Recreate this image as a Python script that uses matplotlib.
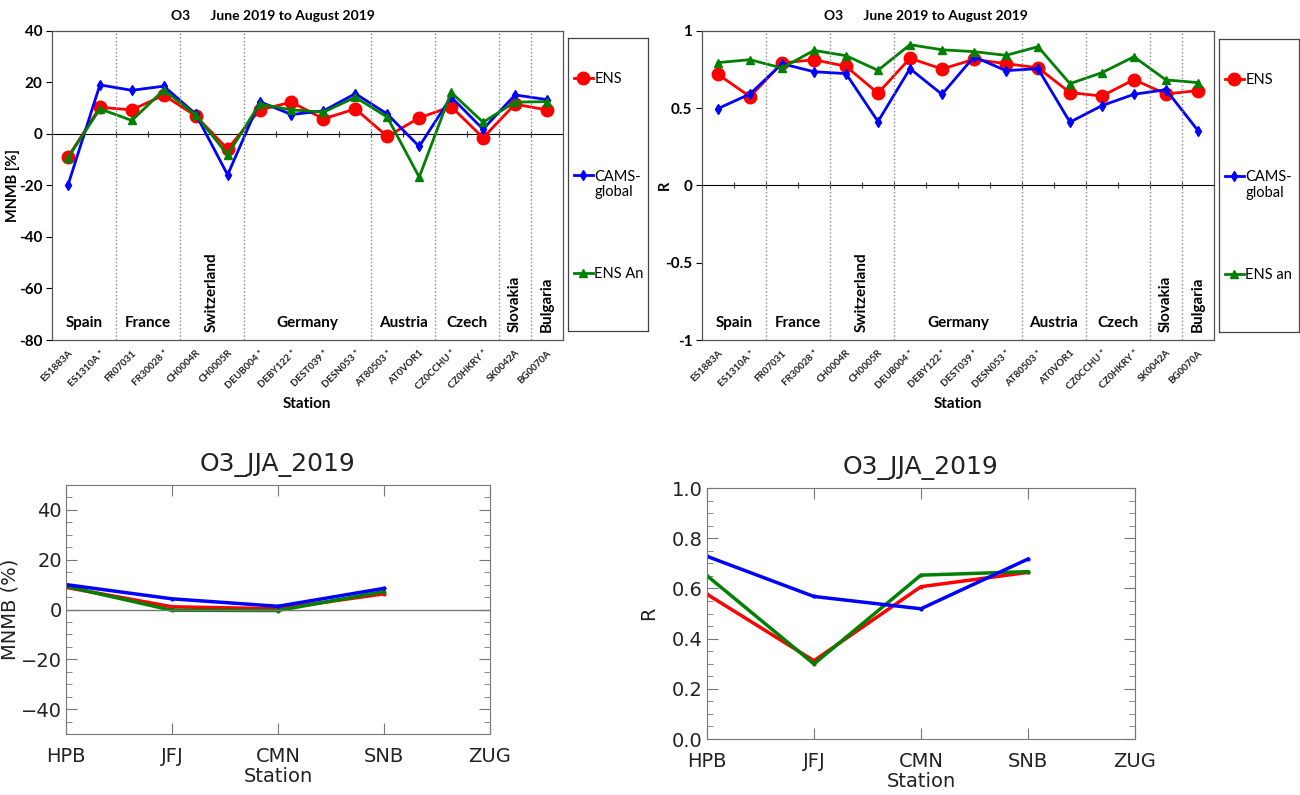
import numpy as np
import matplotlib.pyplot as plt
from matplotlib.ticker import MultipleLocator, FuncFormatter

# station / country layout of the top panels
stations = ["ES1883A", "ES1310A *", "FR07031", "FR30028 *", "CH0004R", "CH0005R",
            "DEUB004 *", "DEBY122 *", "DEST039 *", "DESN053 *", "AT80503 *", "AT0VOR1",
            "CZ0CCHU *", "CZ0HKRY *", "SK0042A", "BG0070A"]
countries = ["Spain", "France", "Switzerland", "Germany", "Austria", "Czech", "Slovakia", "Bulgaria"]
country_size = [2, 2, 2, 4, 2, 2, 1, 1]

# top left: MNMB [%]
mnmb_ens = [-9.0, 10.3, 9.3, 15.0, 7.0, -5.9, 9.3, 12.3, 5.8, 9.7, -1.0, 6.2, 10.6, -1.5, 11.5, 9.3]
mnmb_cams = [-19.9, 19.0, 16.9, 18.5, 7.7, -15.9, 12.5, 7.5, 8.9, 15.6, 7.7, -4.9, 14.3, 1.8, 15.1, 13.3]
mnmb_ensan = [-9.3, 9.7, 5.2, 17.0, 7.4, -8.1, 11.6, 9.3, 8.4, 14.2, 6.5, -16.8, 16.1, 4.5, 12.3, 12.5]

# top right: R
r_ens = [0.718, 0.574, 0.791, 0.813, 0.770, 0.596, 0.822, 0.753, 0.815, 0.787, 0.761, 0.600,
         0.578, 0.684, 0.591, 0.613]
r_cams = [0.497, 0.591, 0.787, 0.735, 0.723, 0.413, 0.755, 0.589, 0.832, 0.742, 0.755, 0.409,
          0.516, 0.589, 0.619, 0.355]
r_ensan = [0.794, 0.813, 0.759, 0.873, 0.839, 0.744, 0.910, 0.877, 0.865, 0.841, 0.897, 0.658,
           0.729, 0.832, 0.682, 0.665]

# bottom panels: mountain stations
gaw_stations = ["HPB", "JFJ", "CMN", "SNB", "ZUG"]
gaw_mnmb_ens = [8.9, 1.1, 0.3, 6.3]
gaw_mnmb_cams = [10.0, 4.3, 1.3, 8.5]
gaw_mnmb_ensan = [9.3, -0.3, -0.4, 7.2]
gaw_r_ens = [0.577, 0.312, 0.607, 0.664]
gaw_r_cams = [0.728, 0.568, 0.519, 0.717]
gaw_r_ensan = [0.651, 0.299, 0.653, 0.667]

TOP_FONT = "Lato"
BOT_FONT = "DejaVu Sans"
BOT_KW = dict(fontfamily=BOT_FONT, color="#222")

fig = plt.figure(figsize=(13, 7.95), dpi=100)


def top_panel(rect, leg_rect, ens, cams, ensan, ylim, ystep, ylabel, ylabel_x, an_label, title_x):
    ax = fig.add_axes(rect)
    x = np.arange(len(stations))
    h1, = ax.plot(x, ens, color="red", marker="o", ms=9, lw=2, label="ENS")
    h2, = ax.plot(x, cams, color="blue", marker="d", ms=5, lw=2, label="CAMS-")
    h3, = ax.plot(x, ensan, color="green", marker="^", ms=6, lw=2, label=an_label)
    ax.set_xlim(-0.5, len(stations) - 0.5)
    ax.set_ylim(*ylim)
    ax.yaxis.set_major_locator(MultipleLocator(ystep))
    ax.yaxis.set_major_formatter(FuncFormatter(lambda v, p: "%g" % v))
    ax.tick_params(axis="y", direction="out", length=4, labelsize=11, pad=3)
    for lab in ax.get_yticklabels():
        lab.set_fontweight("bold")
        lab.set_fontfamily(TOP_FONT)
    ax.set_xticks(x)
    ax.set_xticklabels(stations, rotation=45, ha="right", rotation_mode="anchor",
                       fontsize=7, fontfamily=TOP_FONT, fontweight="bold", color="#222")
    ax.tick_params(axis="x", length=0, pad=6)
    for s in ax.spines.values():
        s.set_color("#555")
        s.set_linewidth(0.9)

    # country separators and labels
    bounds = np.cumsum(country_size)
    for b in bounds[:-1]:
        ax.axvline(b - 0.5, color="#888", ls=":", lw=1)
    starts = bounds - np.array(country_size)
    for name, st, n in zip(countries, starts, country_size):
        cx = st + (n - 1) / 2
        if name in ("Switzerland", "Slovakia", "Bulgaria"):
            ax.text(cx, 0.025, name, transform=ax.get_xaxis_transform(), rotation=90,
                    ha="center", va="bottom", fontsize=11, fontweight="bold", fontfamily=TOP_FONT)
        else:
            ax.text(cx, 0.055, name, transform=ax.get_xaxis_transform(),
                    ha="center", va="center", fontsize=11, fontweight="bold", fontfamily=TOP_FONT)

    # category axis crossing at zero
    frac = (0 - ylim[0]) / (ylim[1] - ylim[0])
    sec = ax.secondary_xaxis(frac)
    sec.set_xticks(np.arange(0.5, len(stations) - 1))
    sec.set_xticklabels([])
    sec.tick_params(direction="inout", length=5, width=0.8, color="#333")
    sec.spines["bottom"].set_color("#333")

    ax.set_ylabel(ylabel, fontsize=10.5, fontweight="bold", fontfamily=TOP_FONT)
    ax.yaxis.set_label_coords(ylabel_x, 0.5)
    ax.set_xlabel("Station", fontsize=11, fontweight="bold", fontfamily=TOP_FONT, labelpad=4)
    fig.text(title_x, 0.98, "O3      June 2019 to August 2019", ha="center", va="center",
             fontsize=10, fontweight="bold", fontfamily=TOP_FONT)

    lax = fig.add_axes(leg_rect)
    lax.set_xticks([])
    lax.set_yticks([])
    for s in lax.spines.values():
        s.set_color("#444")
        s.set_linewidth(0.9)
    leg = lax.legend(handles=[h1, h2, h3], loc="upper left", bbox_to_anchor=(0.0, 0.905),
                     frameon=False, borderaxespad=0, borderpad=0.4, labelspacing=5.75,
                     handlelength=1.3, handletextpad=0.1,
                     prop={"family": TOP_FONT, "size": 10.5})
    return lax, leg


def bottom_panel(rect, ens, cams, ensan, ylim, major, minor, ylabel, ylabel_x, zero):
    ax = fig.add_axes(rect)
    x = np.arange(len(ens))
    ax.plot(x, ens, color="red", lw=2.5, marker=".", ms=4)
    ax.plot(x, ensan, color="green", lw=2.5, marker=".", ms=4)
    ax.plot(x, cams, color="blue", lw=2.5, marker=".", ms=4)
    if zero:
        ax.axhline(0, color="#777", lw=1)
    ax.set_xlim(0, len(gaw_stations) - 1)
    ax.set_ylim(*ylim)
    ax.set_xticks(range(len(gaw_stations)))
    ax.set_xticklabels(gaw_stations)
    ax.yaxis.set_major_locator(MultipleLocator(major))
    ax.yaxis.set_minor_locator(MultipleLocator(minor))
    ax.yaxis.set_major_formatter(FuncFormatter(
        lambda v, p: (("%.1f" % v) if major < 1 else ("%d" % v)).replace("-", "\u2212")))
    ax.tick_params(which="both", direction="in", top=True, right=True, color="#777",
                   labelcolor="#222", labelsize=14)
    ax.tick_params(which="major", length=8, pad=3)
    ax.tick_params(which="minor", length=4)
    ax.tick_params(axis="x", pad=9)
    for lab in ax.get_xticklabels() + ax.get_yticklabels():
        lab.set_fontfamily(BOT_FONT)
    for s in ax.spines.values():
        s.set_color("#777")
    ax.set_xlabel("Station", fontsize=14, labelpad=1, **BOT_KW)
    ax.set_ylabel(ylabel, fontsize=14, **BOT_KW)
    ax.yaxis.set_label_coords(ylabel_x, 0.5)
    ax.set_title("O3_JJA_2019", fontsize=18, pad=10, **BOT_KW)


tl = top_panel([0.04, 0.5723, 0.393, 0.389], [0.4369, 0.5836, 0.0615, 0.3686],
               mnmb_ens, mnmb_cams, mnmb_ensan, (-80, 40), 20, "MNMB [%]", -0.063, "ENS An", 0.21)
tr = top_panel([0.54, 0.5723, 0.3938, 0.389], [0.9377, 0.5824, 0.0615, 0.3686],
               r_ens, r_cams, r_ensan, (-1, 1), 0.5, "R", -0.059, "ENS an", 0.712)

bottom_panel([0.0508, 0.0767, 0.326, 0.3132], gaw_mnmb_ens, gaw_mnmb_cams, gaw_mnmb_ensan,
             (-50, 50), 20, 5, "MNMB (%)", -0.11, True)
bottom_panel([0.5438, 0.0704, 0.3292, 0.3157], gaw_r_ens, gaw_r_cams, gaw_r_ensan,
             (0, 1), 0.2, 0.05, "R", -0.115, False)

# second line of the "CAMS-global" legend label
fig.canvas.draw()
for lax, leg in (tl, tr):
    t = leg.get_texts()[1]
    bb = t.get_window_extent().transformed(lax.transAxes.inverted())
    lax.text(bb.x0, bb.y0 - 0.005, "global", transform=lax.transAxes, ha="left", va="top",
             fontsize=10.5, fontfamily=TOP_FONT)

fig.savefig("out.png", dpi=100)
